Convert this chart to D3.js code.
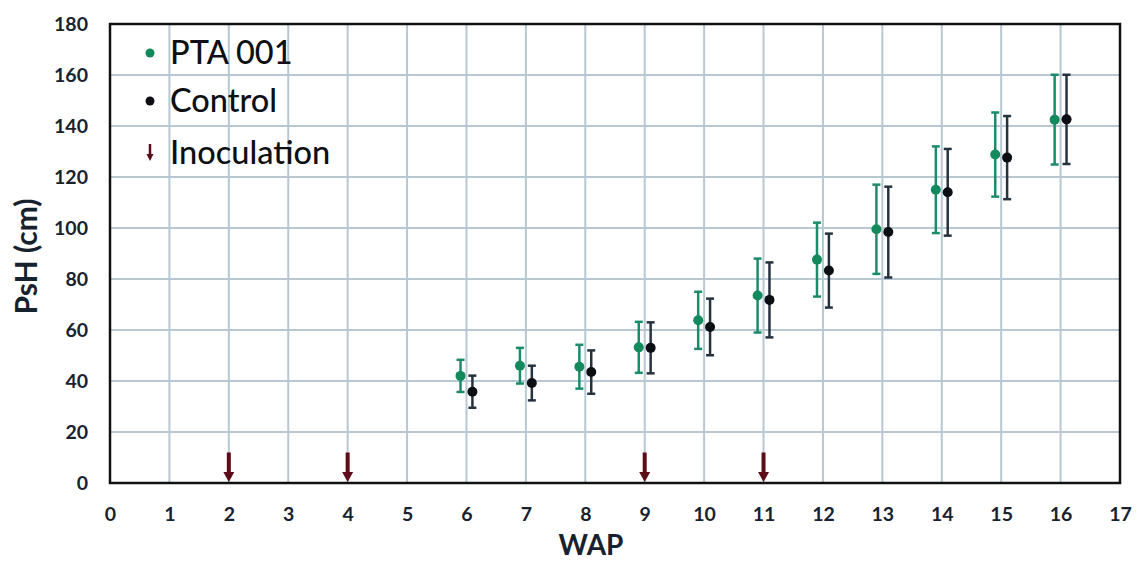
<!DOCTYPE html>
<html>
<head>
<meta charset="utf-8">
<script src="https://cdn.jsdelivr.net/npm/d3@7"></script>
<style>
  html, body { margin: 0; padding: 0; background: #ffffff; }
  svg { display: block; }
</style>
</head>
<body>
<svg id="chart" width="1137" height="561"></svg>
<script>
// ---- data ----
const weeks = [6, 7, 8, 9, 10, 11, 12, 13, 14, 15, 16];
const ptaMean = [42, 46, 45.6, 53.2, 63.8, 73.5, 87.6, 99.5, 115, 128.8, 142.5];
const ptaErr  = [6.3, 7, 8.6, 10, 11.2, 14.5, 14.5, 17.5, 17, 16.5, 17.6];
const ctlMean = [35.8, 39.2, 43.5, 53, 61.2, 71.8, 83.3, 98.4, 114, 127.6, 142.6];
const ctlErr  = [6.3, 6.8, 8.5, 10, 11.1, 14.7, 14.5, 17.8, 17, 16.3, 17.5];
const inoculationWeeks = [2, 4, 9, 11];
const arrowTop = 12;
const xTicks = d3.range(0, 18);
const yTicks = d3.range(0, 181, 20);
const legendLabels = ["PTA 001", "Control", "Inoculation"];

// ---- layout ----
const svg = d3.select("#chart");
const m = { left: 110, right: 17, top: 24, bottom: 78 };
const W = 1137, H = 561;
const x = d3.scaleLinear().domain([0, 17]).range([m.left, W - m.right]);
const y = d3.scaleLinear().domain([0, 180]).range([H - m.bottom, m.top]);

const font = "Lato, 'Open Sans', sans-serif";
const green = "#138a5c";
const greenBar = "#1a8c6a";
const black = "#0b0f14";
const blackBar = "#26333f";
const maroon = "#5c0c18";
const gridCol = "#b7c8d3";

// grid
const g = svg.append("g");
g.selectAll(".vg").data(xTicks.filter(d => d > 0 && d < 17)).join("line")
  .attr("x1", d => x(d)).attr("x2", d => x(d))
  .attr("y1", y(0)).attr("y2", y(180))
  .attr("stroke", gridCol).attr("stroke-width", 2);
g.selectAll(".hg").data(yTicks.filter(d => d > 0 && d < 180)).join("line")
  .attr("x1", x(0)).attr("x2", x(17))
  .attr("y1", d => y(d)).attr("y2", d => y(d))
  .attr("stroke", gridCol).attr("stroke-width", 2);

// frame
svg.append("rect")
  .attr("x", x(0)).attr("y", y(180))
  .attr("width", x(17) - x(0)).attr("height", y(0) - y(180))
  .attr("fill", "none").attr("stroke", "#111").attr("stroke-width", 2.5);

// axes (labels only)
const xAxis = d3.axisBottom(x).tickValues(xTicks).tickSize(0).tickPadding(24).tickFormat(d3.format("d"));
const yAxis = d3.axisLeft(y).tickValues(yTicks).tickSize(0).tickPadding(22).tickFormat(d3.format("d"));
const xg = svg.append("g").attr("transform", `translate(0,${y(0)})`).call(xAxis);
const yg = svg.append("g").attr("transform", `translate(${x(0)},0)`).call(yAxis);
[xg, yg].forEach(a => {
  a.select(".domain").remove();
  a.selectAll("text").attr("font-family", font).attr("font-size", 19.5)
    .attr("font-weight", 700).attr("fill", "#17222e");
});

// axis titles
svg.append("text")
  .attr("x", 591).attr("y", 555)
  .attr("text-anchor", "middle")
  .attr("font-family", font).attr("font-size", 28).attr("font-weight", 700)
  .attr("fill", "#17222e").text("WAP");
svg.append("text")
  .attr("transform", `translate(37,${(y(0) + y(180)) / 2 + 3}) rotate(-90)`)
  .attr("text-anchor", "middle")
  .attr("font-family", font).attr("font-size", 30).attr("font-weight", 700)
  .attr("fill", "#17222e").text("PsH (cm)");

// series
const dx = 0.1;
function drawSeries(means, errs, offset, dotCol, barCol) {
  const s = svg.append("g");
  const data = weeks.map((w, i) => ({ w, m: means[i], e: errs[i] }));
  s.selectAll(".eb").data(data).join("line")
    .attr("x1", d => x(d.w + offset)).attr("x2", d => x(d.w + offset))
    .attr("y1", d => y(d.m - d.e)).attr("y2", d => y(d.m + d.e))
    .attr("stroke", barCol).attr("stroke-width", 2.5);
  ["lo", "hi"].forEach(k => {
    s.selectAll(".cap" + k).data(data).join("line")
      .attr("x1", d => x(d.w + offset) - 4).attr("x2", d => x(d.w + offset) + 4)
      .attr("y1", d => y(k === "lo" ? d.m - d.e : d.m + d.e))
      .attr("y2", d => y(k === "lo" ? d.m - d.e : d.m + d.e))
      .attr("stroke", barCol).attr("stroke-width", 2.5);
  });
  s.selectAll(".pt").data(data).join("circle")
    .attr("cx", d => x(d.w + offset)).attr("cy", d => y(d.m))
    .attr("r", 5).attr("fill", dotCol);
}
drawSeries(ptaMean, ptaErr, -dx, green, greenBar);
drawSeries(ctlMean, ctlErr, dx, black, blackBar);

// inoculation arrows
function arrow(parent, cx, yTop, yBot, shaftW, headW, headH) {
  parent.append("path")
    .attr("d", `M${cx - shaftW / 2},${yTop} L${cx + shaftW / 2},${yTop} L${cx + shaftW / 2},${yBot - headH} L${cx + headW / 2},${yBot - headH} L${cx},${yBot} L${cx - headW / 2},${yBot - headH} L${cx - shaftW / 2},${yBot - headH} Z`)
    .attr("fill", maroon);
}
const ag = svg.append("g");
inoculationWeeks.forEach(w => arrow(ag, x(w), y(arrowTop), y(0) - 1, 4, 11, 10));

// legend
const lg = svg.append("g");
const legY = [53, 101, 153];
lg.append("circle").attr("cx", 150).attr("cy", legY[0]).attr("r", 4.5).attr("fill", green);
lg.append("circle").attr("cx", 150).attr("cy", legY[1]).attr("r", 4.5).attr("fill", black);
arrow(lg, 150, legY[2] - 9, legY[2] + 8, 2.5, 7, 7);
legendLabels.forEach((t, i) => {
  lg.append("text").attr("x", 170).attr("y", legY[i] + 11)
    .attr("font-family", font).attr("font-size", 32.5).attr("font-weight", 500)
    .attr("fill", "#0c0f13").text(t);
});
</script>
</body>
</html>
